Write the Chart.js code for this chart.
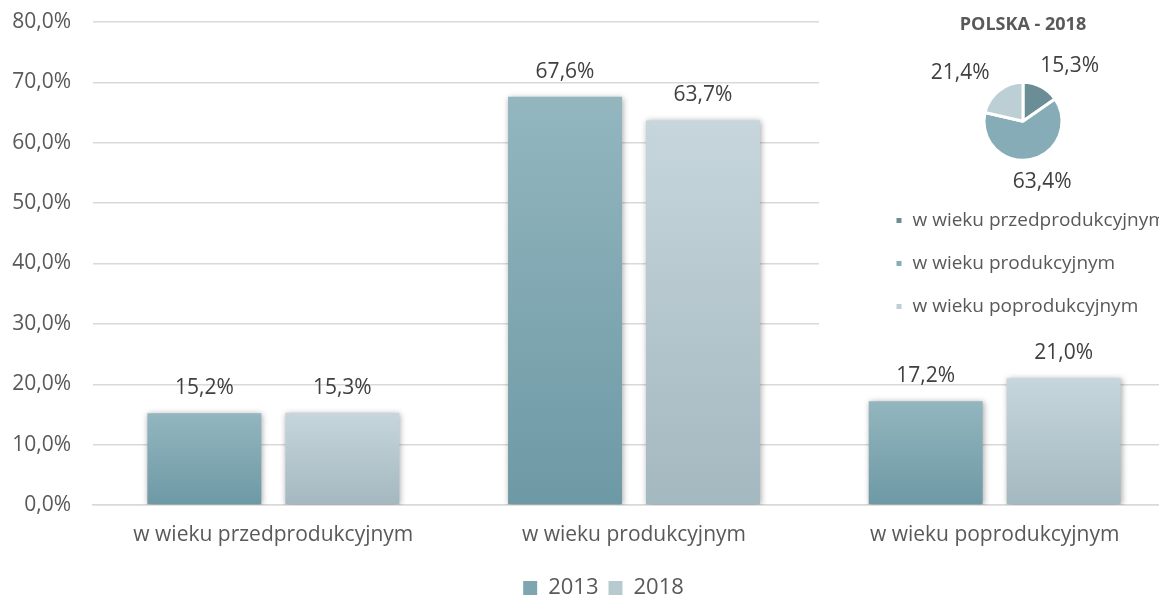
<!DOCTYPE html>
<html>
<head>
<meta charset="utf-8">
<script src="https://cdn.jsdelivr.net/npm/chart.js@4/dist/chart.umd.min.js"></script>
<style>
  html, body { margin: 0; padding: 0; background: #fff; overflow: hidden; }
  #wrap { position: relative; width: 1210px; height: 596px; }
  #main-chart { position: absolute; left: 0; top: 0; }
  #pie-chart { position: absolute; left: 819px; top: 0; background: #fff; }
</style>
</head>
<body>
<div id="wrap">
  <canvas id="main-chart" width="1210" height="596"></canvas>
  <canvas id="pie-chart" width="370" height="339"></canvas>
</div>
<script>
const categories = ["w wieku przedprodukcyjnym", "w wieku produkcyjnym", "w wieku poprodukcyjnym"];
const yearLabels = ["2013", "2018"];
const values2013 = [15.2, 67.6, 17.2];
const values2018 = [15.3, 63.7, 21.0];
const yMin = 0;
const yMax = 80;
const yStep = 10;

const pieTitle = "POLSKA - 2018";
const pieLabels = ["w wieku przedprodukcyjnym", "w wieku produkcyjnym", "w wieku poprodukcyjnym"];
const pieValues = [15.3, 63.4, 21.4];

const FONT = "'Open Sans', 'DejaVu Sans', sans-serif";
const fmt = (v) => v.toFixed(1).replace(".", ",") + "%";

// vertical gradient for each bar, from its top down to the axis
function barFill(top, bottom) {
  return function (context) {
    const chart = context.chart;
    const area = chart.chartArea;
    if (!area || context.type !== "data" || !chart.scales.y) return bottom;
    const y = chart.scales.y.getPixelForValue(context.raw);
    const g = chart.ctx.createLinearGradient(0, y, 0, area.bottom);
    g.addColorStop(0, top);
    g.addColorStop(1, bottom);
    return g;
  };
}

const legendColors = ["#7fa6b0", "#b7cad0"];

const barShadow = {
  id: "barShadow",
  beforeDatasetsDraw(chart) {
    const c = chart.ctx;
    c.save();
    c.shadowColor = "rgba(0,0,0,0.35)";
    c.shadowBlur = 6;
    c.shadowOffsetX = 1;
    c.shadowOffsetY = 1;
  },
  afterDatasetsDraw(chart) {
    chart.ctx.restore();
  },
};

const barValueLabels = {
  id: "barValueLabels",
  afterDraw(chart) {
    const c = chart.ctx;
    c.save();
    c.font = "21px " + FONT;
    c.fillStyle = "#404040";
    c.textAlign = "center";
    c.textBaseline = "middle";
    chart.data.datasets.forEach((ds, i) => {
      chart.getDatasetMeta(i).data.forEach((bar, j) => {
        c.fillText(fmt(ds.data[j]), bar.x, bar.y - 25);
      });
    });
    c.restore();
  },
};

// move a legend sideways after layout
function legendShift(dx) {
  return {
    id: "legendShift",
    afterLayout(chart) {
      chart.legend.left += dx;
      chart.legend.right += dx;
    },
  };
}

new Chart(document.getElementById("main-chart").getContext("2d"), {
  type: "bar",
  data: {
    labels: categories,
    datasets: [
      {
        label: yearLabels[0],
        data: values2013,
        backgroundColor: barFill("#93b6bf", "#6d99a5"),
        categoryPercentage: 0.765,
        barPercentage: 0.826,
      },
      {
        label: yearLabels[1],
        data: values2018,
        backgroundColor: barFill("#c6d6dc", "#a4b8bf"),
        categoryPercentage: 0.765,
        barPercentage: 0.826,
      },
    ],
  },
  options: {
    responsive: false,
    animation: false,
    events: [],
    layout: { padding: { top: 22, bottom: -13, left: 0, right: 35 } },
    plugins: {
      legend: {
        position: "bottom",
        labels: {
          font: { family: FONT, size: 22 },
          color: "#595959",
          boxWidth: 14,
          boxHeight: 14,
          padding: 10,
          generateLabels(chart) {
            return chart.data.datasets.map((ds, i) => ({
              text: ds.label,
              fillStyle: legendColors[i],
              strokeStyle: legendColors[i],
              lineWidth: 0,
              hidden: false,
              datasetIndex: i,
              fontColor: "#595959",
            }));
          },
        },
      },
      title: { display: false },
      tooltip: { enabled: false },
    },
    scales: {
      y: {
        min: yMin,
        max: yMax,
        ticks: {
          stepSize: yStep,
          padding: 0,
          color: "#595959",
          font: { family: FONT, size: 21 },
          callback: (v) => fmt(v),
        },
        grid: {
          color: "#d9d9d9",
          lineWidth: 1.5,
          drawTicks: true,
          tickLength: 22,
          tickColor: "rgba(0,0,0,0)",
        },
        border: { display: false },
        afterFit(scale) { scale.width = 93; },
      },
      x: {
        ticks: {
          padding: 17,
          color: "#595959",
          font: { family: FONT, size: 21 },
        },
        grid: { display: false, drawTicks: false },
        border: { color: "#d9d9d9", width: 1.5 },
        afterFit(scale) { scale.height = 62; },
      },
    },
  },
  plugins: [barShadow, barValueLabels, legendShift(16)],
});

const pieValueLabels = {
  id: "pieValueLabels",
  afterDraw(chart) {
    const c = chart.ctx;
    c.save();
    c.font = "21px " + FONT;
    c.fillStyle = "#404040";
    c.textAlign = "center";
    c.textBaseline = "middle";
    chart.getDatasetMeta(0).data.forEach((arc, i) => {
      const mid = (arc.startAngle + arc.endAngle) / 2;
      const x = arc.x + Math.cos(mid) * 101;
      const y = arc.y + Math.sin(mid) * 62;
      c.fillText(fmt(pieValues[i]), x, y);
    });
    c.restore();
  },
};

new Chart(document.getElementById("pie-chart").getContext("2d"), {
  type: "pie",
  data: {
    labels: pieLabels,
    datasets: [
      {
        data: pieValues,
        backgroundColor: ["#6b8d95", "#86adb7", "#bccfd5"],
        borderColor: "#ffffff",
        borderWidth: 3,
        radius: 39,
      },
    ],
  },
  options: {
    responsive: false,
    animation: false,
    events: [],
    layout: { padding: { left: 38, right: 0, top: 0, bottom: 13 } },
    plugins: {
      title: {
        display: true,
        text: pieTitle,
        color: "#595959",
        font: { family: FONT, size: 18, weight: "bold" },
        padding: { top: 14, bottom: 20 },
      },
      legend: {
        position: "bottom",
        align: "start",
        labels: {
          font: { family: FONT, size: 19 },
          color: "#595959",
          boxWidth: 8,
          boxHeight: 8,
          padding: 24,
        },
      },
      tooltip: { enabled: false },
    },
  },
  plugins: [pieValueLabels, legendShift(14)],
});
</script>
</body>
</html>
